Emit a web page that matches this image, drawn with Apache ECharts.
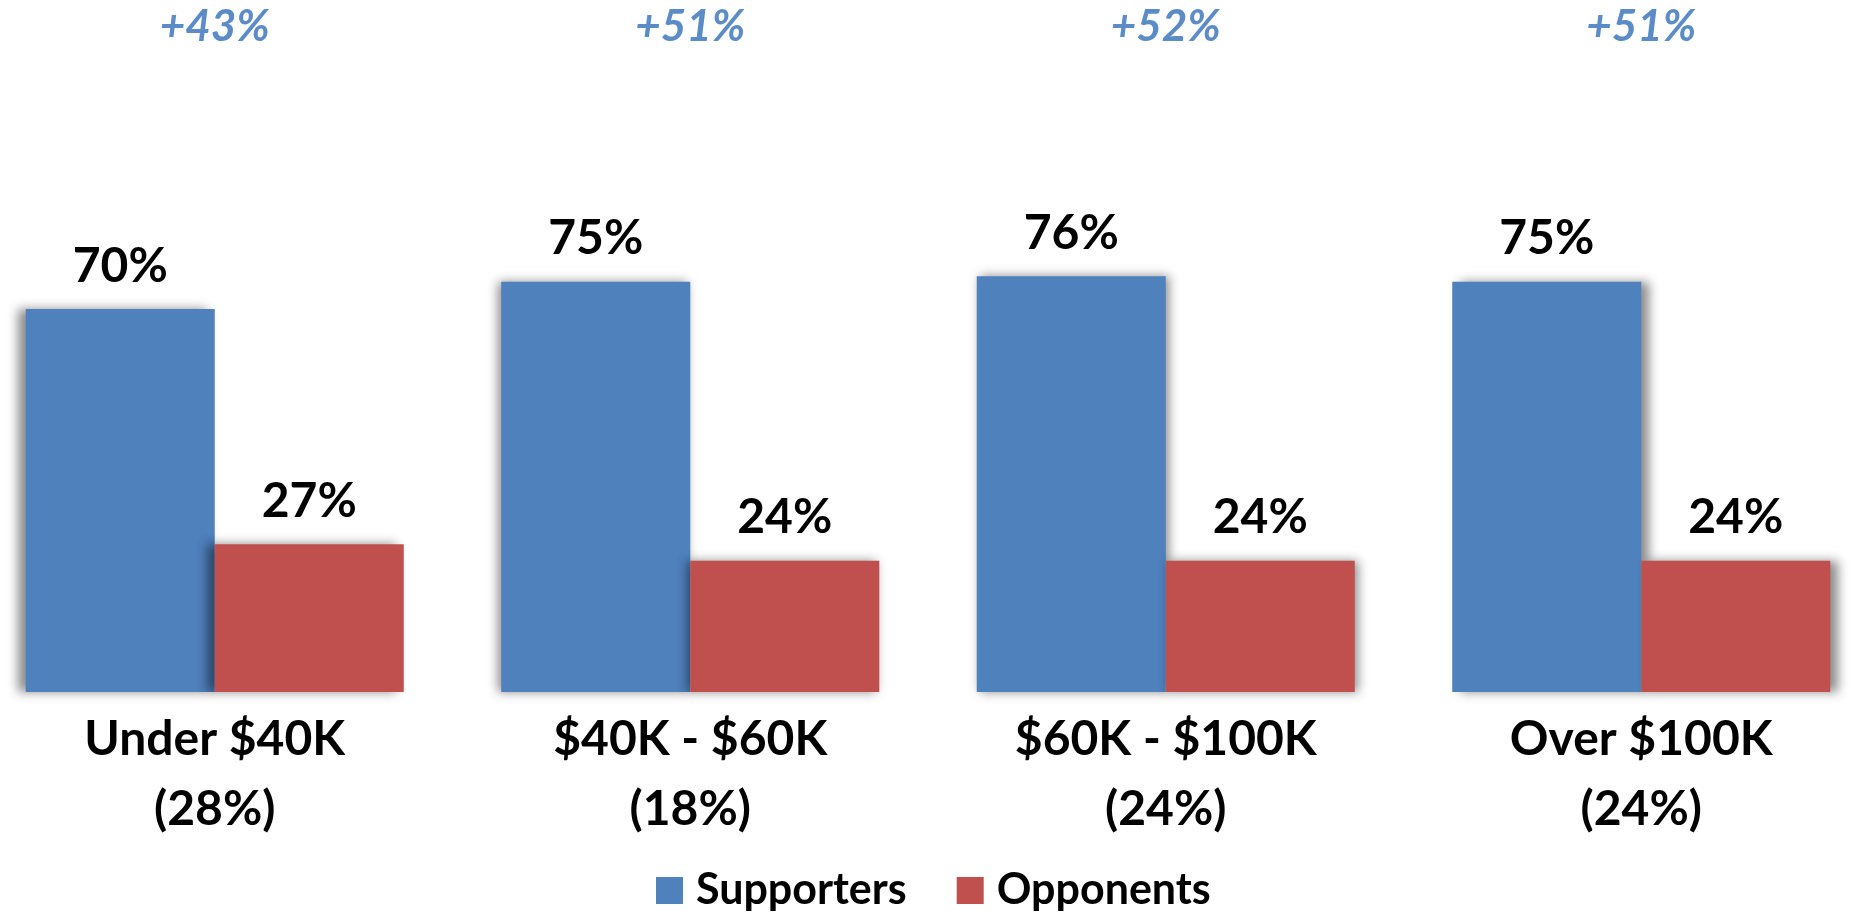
<!DOCTYPE html>
<html>
<head>
<meta charset="utf-8">
<script src="https://cdn.jsdelivr.net/npm/echarts@6/dist/echarts.min.js"></script>
<style>html,body{margin:0;padding:0;background:#fff;overflow:hidden;width:1851px;height:913px}#c{position:absolute;left:-23px;top:0;width:1902px;height:913px}</style>
</head>
<body>
<div id="c"></div>
<script>
const categories = ['Under $40K\n(28%)', '$40K - $60K\n(18%)', '$60K - $100K\n(24%)', 'Over $100K\n(24%)'];
const supporters = [70, 75, 76, 75];
const opponents = [27, 24, 24, 24];
const marginLabels = ['+43%', '+51%', '+52%', '+51%'];
const seriesNames = ['Supporters', 'Opponents'];

const FONT = 'Lato, "Open Sans", sans-serif';
const chart = echarts.init(document.getElementById('c'));
const shadowX = [-8, -3, 3, 8];
function items(vals) {
  return vals.map((v, i) => ({ value: v, itemStyle: { shadowOffsetX: shadowX[i] } }));
}
chart.setOption({
  animation: false,
  backgroundColor: '#ffffff',
  grid: { left: 0, right: 0, top: 145, bottom: 221, containLabel: false },
  legend: {
    data: seriesNames,
    left: 674, top: 864,
    itemWidth: 27, itemHeight: 27, itemGap: 50,
    icon: 'rect',
    textStyle: { fontFamily: FONT, fontWeight: 'bold', fontSize: 43, lineHeight: 43, color: '#000', padding: [0, 0, 0, 8] }
  },
  xAxis: [{
    type: 'category',
    data: categories,
    axisLine: { show: false }, axisTick: { show: false },
    axisLabel: { fontFamily: FONT, fontWeight: 'bold', fontSize: 48, lineHeight: 70, color: '#000', margin: 13, interval: 0 }
  }, {
    type: 'category',
    position: 'top',
    data: marginLabels,
    axisLine: { show: false }, axisTick: { show: false },
    axisLabel: { fontFamily: FONT, fontWeight: 'bold', fontStyle: 'italic', fontSize: 44, lineHeight: 44, color: '#5b8cc8', margin: 96, interval: 0 }
  }],
  yAxis: { type: 'value', min: 0, max: 100, show: false, splitLine: { show: false } },
  series: [{
    name: seriesNames[0], type: 'bar', data: items(supporters),
    barCategoryGap: '20.5%', barGap: '0%',
    itemStyle: { color: '#4f81bd', shadowColor: 'rgba(0,0,0,0.45)', shadowBlur: 10 },
    label: { show: true, position: 'top', distance: 19, formatter: '{c}%', fontFamily: FONT, fontWeight: 'bold', fontSize: 48, color: '#000' }
  }, {
    name: seriesNames[1], type: 'bar', data: items(opponents),
    barCategoryGap: '20.5%', barGap: '0%',
    itemStyle: { color: '#c0504d', shadowColor: 'rgba(0,0,0,0.45)', shadowBlur: 10 },
    label: { show: true, position: 'top', distance: 19, formatter: '{c}%', fontFamily: FONT, fontWeight: 'bold', fontSize: 48, color: '#000' }
  }]
});
</script>
</body>
</html>
